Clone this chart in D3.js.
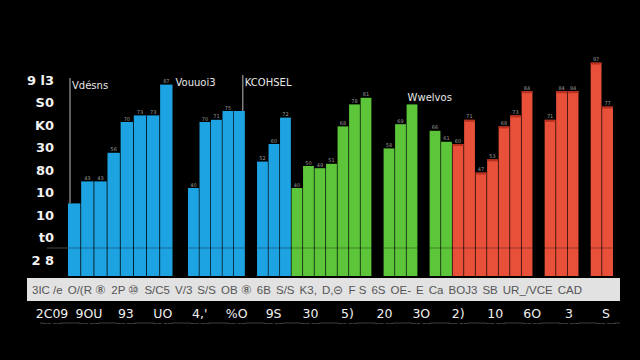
<!DOCTYPE html>
<html>
<head>
<meta charset="utf-8">
<script src="https://cdn.jsdelivr.net/npm/d3@7"></script>
<style>
html,body{margin:0;padding:0;background:#000;}
svg{display:block;}
</style>
</head>
<body>
<svg id="chart" width="640" height="360"></svg>
<script>
// ---- data ----
const yTickLabels = ["9 l3", "S0", "K0", "30", "80", "10", "10", "t0", "2 8"];
const blueValues  = [33, 43, 43, 56, 70, 73, 73, 87,  40, 70, 71, 75, 75,  52, 60, 72];
const greenValues = [40, 50, 49, 51, 68, 78, 81,  58, 69, 78,  66, 61];
const redValues   = [60, 71, 47, 53, 68, 73, 84,  71, 84, 84,  97, 77];
const groupSizes  = [8, 5, 10, 3, 9, 3, 2];
const bandLabels  = ["3IC /e", "O/(R ⑧", "2P ⑩", "S/C5", "V/3", "S/S", "OB ⑧", "6B", "S/S", "K3,", "D,⊝", "F S", "6S", "OE-", "E", "Ca", "BOJ3", "SB", "UR_/VCE", "CAD"];
const bottomLabels = ["2C09", "9OU", "93", "UO", "4,'", "%O", "9S", "30", "5)", "20", "3O", "2)", "10", "6O", "3", "S"];
const annotationTexts = ["Vdésns", "Vouuoi3", "KCOHSEL", "Wwelvos"];
const annotationBars  = [0, 7, 12, 25];

const colors = {blue: "#1ea3e2", green: "#5cc53a", red: "#e8503a"};

// ---- build bar list ----
const bars = [];
blueValues.forEach(v => bars.push({series: "blue", value: v}));
greenValues.forEach(v => bars.push({series: "green", value: v}));
redValues.forEach(v => bars.push({series: "red", value: v}));

// first group has its own (wider) band; the rest share slots with blank gaps
let k = 0, slot = 0;
groupSizes.forEach((n, gi) => {
  for (let i = 0; i < n; i++) {
    const b = bars[k];
    b.idx = k; b.group = gi;
    if (gi === 0) { b.slot = i; } else { b.slot = slot; slot++; }
    k++;
  }
  if (gi > 0 && gi < groupSizes.length - 1) slot += 1;
});
const nSlots = slot;

const svg = d3.select("#chart");

const x1 = d3.scaleBand().domain(d3.range(groupSizes[0])).range([68, 172.5]).paddingInner(0.06);
const x2 = d3.scaleBand().domain(d3.range(nSlots)).range([188, 613]).paddingInner(0.06);
const bx = d => d.group === 0 ? x1(d.slot) : x2(d.slot);
const bw = d => d.group === 0 ? x1.bandwidth() : x2.bandwidth();
const y = d3.scaleLinear().domain([0, 100]).range([276, 56]);

// y tick labels
const yTicks = d3.scalePoint().domain(d3.range(yTickLabels.length)).range([80, 260]);
const yAxis = d3.axisLeft(yTicks).tickSize(0).tickPadding(0).tickFormat(i => yTickLabels[i]);
const gy = svg.append("g").attr("transform", "translate(54,0)").call(yAxis);
gy.select(".domain").remove();
gy.selectAll("text").attr("fill", "#f2f2f2").attr("font-family", "DejaVu Sans, sans-serif")
  .attr("font-size", 13).attr("font-weight", "bold").attr("text-anchor", "end");

// bars
svg.append("g").selectAll("rect").data(bars).join("rect")
  .attr("x", bx)
  .attr("y", d => y(d.value))
  .attr("width", bw)
  .attr("height", d => y(0) - y(d.value))
  .attr("fill", d => colors[d.series]);

// faint horizontal gridline
svg.append("line").attr("x1", 68).attr("x2", 612).attr("y1", 248).attr("y2", 248)
  .attr("stroke", "#000").attr("stroke-opacity", 0.35).attr("stroke-width", 1);
svg.append("line").attr("x1", 47).attr("x2", 68).attr("y1", 248).attr("y2", 248)
  .attr("stroke", "#444").attr("stroke-width", 1);

// darker top edge on red bars
svg.append("g").selectAll("rect").data(bars.filter(d => d.series === "red")).join("rect")
  .attr("x", bx).attr("y", d => y(d.value))
  .attr("width", bw).attr("height", 2)
  .attr("fill", "#b8301f");

// tiny value labels above bars (not where an annotation sits)
svg.append("g").selectAll("text").data(bars.filter(d => annotationBars.indexOf(d.idx) < 0 || d.idx === 7)).join("text")
  .attr("x", d => bx(d) + bw(d) / 2)
  .attr("y", d => y(d.value) - 1.5)
  .attr("text-anchor", "middle")
  .attr("font-family", "DejaVu Sans, sans-serif")
  .attr("font-size", 5)
  .attr("fill", "#cfcfcf")
  .attr("fill-opacity", 0.75)
  .text(d => d.value);

// annotations
const annFont = t => t.attr("fill", "#e8e8e8").attr("font-family", "DejaVu Sans, sans-serif").attr("font-size", 10);
{
  const b = bars[annotationBars[0]];
  const lx = bx(b) + 2;
  svg.append("line").attr("x1", lx).attr("x2", lx).attr("y1", 78).attr("y2", y(b.value)).attr("stroke", "#bbb");
  annFont(svg.append("text").attr("x", lx + 2).attr("y", 89).text(annotationTexts[0]));
}
{
  const b = bars[annotationBars[1]];
  annFont(svg.append("text").attr("x", bx(b) + bw(b) + 3).attr("y", 86).text(annotationTexts[1]));
}
{
  const b = bars[annotationBars[2]];
  const lx = bx(b) + bw(b) - 2;
  svg.append("line").attr("x1", lx).attr("x2", lx).attr("y1", 75).attr("y2", y(b.value)).attr("stroke", "#bbb");
  annFont(svg.append("text").attr("x", lx + 2).attr("y", 86).text(annotationTexts[2]));
}
{
  const b = bars[annotationBars[3]];
  annFont(svg.append("text").attr("x", bx(b) + 1).attr("y", 101).text(annotationTexts[3]));
}

// light band with category labels, justified across the band
svg.append("rect").attr("x", 27).attr("y", 278).attr("width", 593).attr("height", 23).attr("fill", "#e2e2e2");
const bandTexts = svg.append("g").selectAll("text").data(bandLabels).join("text")
  .attr("y", 294)
  .attr("font-family", "Liberation Sans, sans-serif").attr("font-size", 11.5)
  .attr("fill", "#555").text(d => d);
{
  const widths = [];
  bandTexts.each(function () { widths.push(this.getComputedTextLength()); });
  const total = d3.sum(widths);
  const left = 32, right = 582;
  const gap = (right - left - total) / (bandLabels.length - 1);
  let cx = left;
  bandTexts.attr("x", (d, i) => { const v = cx; cx += widths[i] + gap; return v; });
}

// bottom labels
const lx = d3.scalePoint().domain(d3.range(bottomLabels.length)).range([52, 606]);
svg.append("line").attr("x1", 40).attr("x2", 620).attr("y1", 323).attr("y2", 323)
  .attr("stroke", "#666").attr("stroke-width", 0.6);
svg.append("g").selectAll("text").data(bottomLabels).join("text")
  .attr("x", (d, i) => lx(i)).attr("y", 318)
  .attr("text-anchor", "middle")
  .attr("font-family", "DejaVu Sans, sans-serif").attr("font-size", 12.5)
  .attr("fill", "#f0f0f0").text(d => d);
svg.append("g").selectAll("rect").data(bottomLabels).join("rect")
  .attr("x", (d, i) => lx(i) - 9).attr("y", 320).attr("width", 18).attr("height", 5).attr("fill", "#000");
svg.append("g").selectAll("text.tiny").data(bottomLabels).join("text")
  .attr("x", (d, i) => lx(i)).attr("y", 324.5)
  .attr("text-anchor", "middle")
  .attr("font-family", "DejaVu Sans, sans-serif").attr("font-size", 4.5)
  .attr("fill", "#aaa").text("—— ——");
</script>
</body>
</html>
